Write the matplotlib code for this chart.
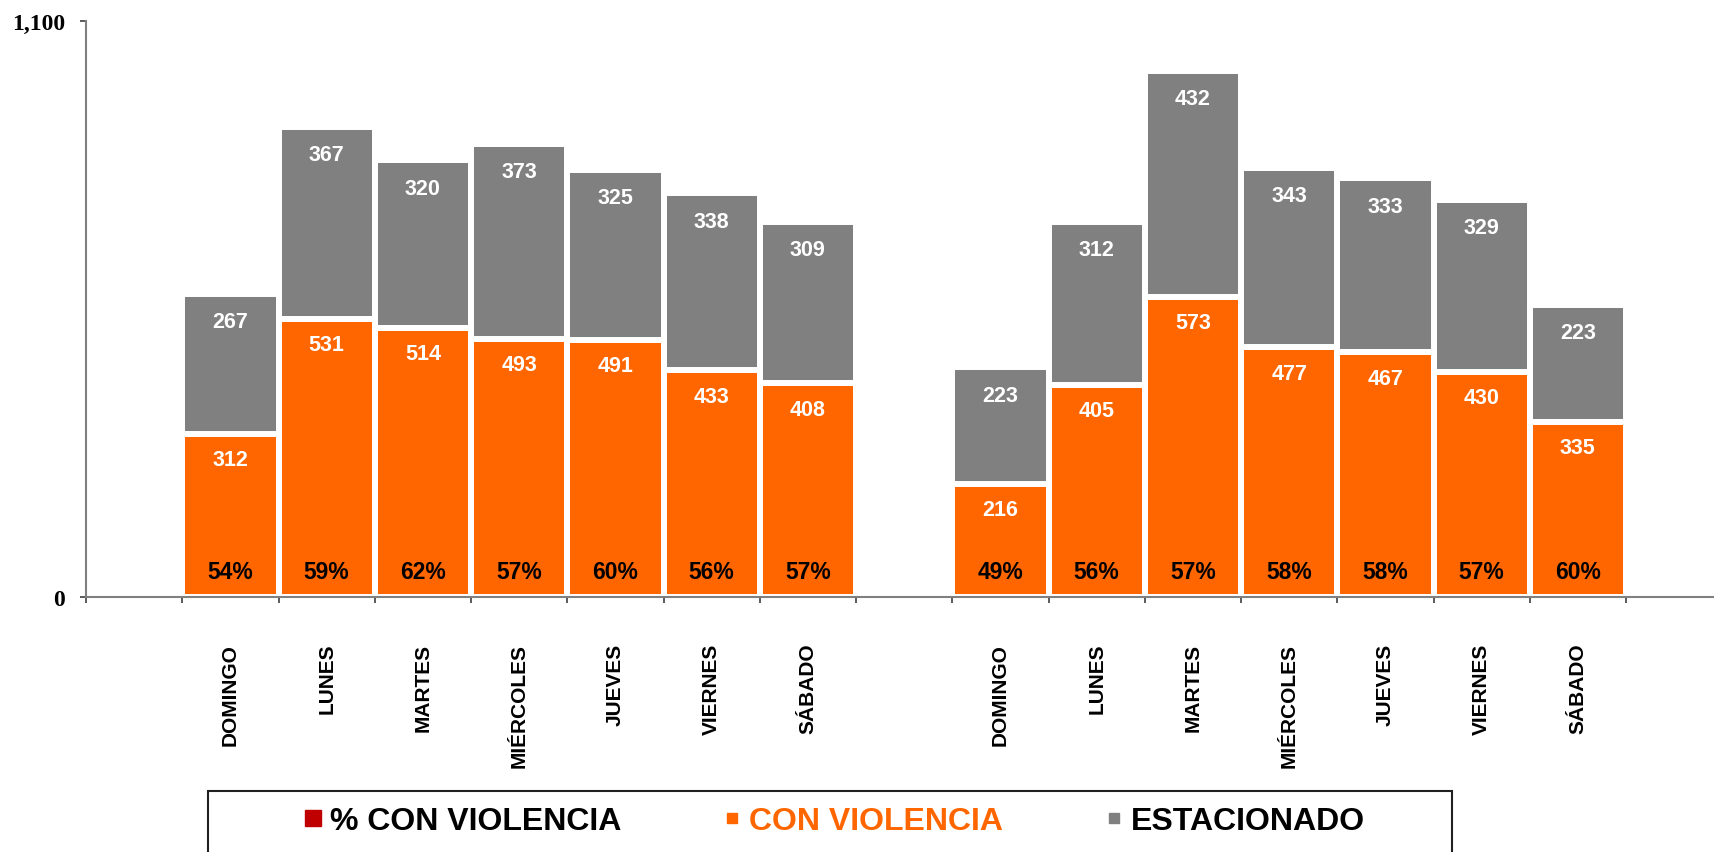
"""
Stacked bars: vehicle robbery by weekday, two periods.
"""
import matplotlib.pyplot as plt
import numpy as np
from matplotlib.lines import Line2D
from matplotlib.patches import Rectangle

days = ["DOMINGO", "LUNES", "MARTES", "MIÉRCOLES", "JUEVES", "VIERNES", "SÁBADO"]

# first period
violencia_1 = [312, 531, 514, 493, 491, 433, 408]
estacionado_1 = [267, 367, 320, 373, 325, 338, 309]
pct_1 = [54, 59, 62, 57, 60, 56, 57]

# second period
violencia_2 = [216, 405, 573, 477, 467, 430, 335]
estacionado_2 = [223, 312, 432, 343, 333, 329, 223]
pct_2 = [49, 56, 57, 58, 58, 57, 60]

ORANGE = "#FF6600"
GRAY = "#808080"
RED = "#C00000"

plt.rcParams["font.family"] = ["Liberation Sans", "DejaVu Sans"]

fig = plt.figure(figsize=(17.14, 8.53), dpi=100)
ax = fig.add_axes([86 / 1714, 255 / 853, 1 - 86 / 1714, 576 / 853])

groups = [(np.arange(7) + 1, violencia_1, estacionado_1, pct_1),
          (np.arange(7) + 9, violencia_2, estacionado_2, pct_2)]

for xs, viol, est, pct in groups:
    ax.bar(xs, viol, width=1.0, color=ORANGE, edgecolor="white", linewidth=4.3)
    ax.bar(xs, est, bottom=viol, width=1.0, color=GRAY, edgecolor="white", linewidth=4.3)
    for x, v, e, p in zip(xs, viol, est, pct):
        ax.annotate(str(e), xy=(x, v + e), xytext=(0, -28), textcoords="offset pixels",
                    ha="center", va="center", color="white", fontsize=15.5, fontweight="bold")
        ax.annotate(str(v), xy=(x, v), xytext=(0, -26), textcoords="offset pixels",
                    ha="center", va="center", color="white", fontsize=15.5, fontweight="bold")
        ax.annotate(f"{p}%", xy=(x, 0), xytext=(0, 25), textcoords="offset pixels",
                    ha="center", va="center", color="black", fontsize=16.5, fontweight="bold")

ax.set_xlim(-0.5, -0.5 + (1714 - 86) / 96.25)
ax.set_ylim(0, 1100)

# ticks at slot boundaries, labels at bar centres
ax.set_xticks(np.arange(17) - 0.5)
ax.set_xticklabels([])
centers = np.concatenate([groups[0][0], groups[1][0]])
ax.set_xticks(centers, minor=True)
ax.set_xticklabels(days + days, minor=True, rotation=90, fontsize=15, fontweight="bold")
ax.tick_params(axis="x", which="minor", length=0, pad=33)
ax.tick_params(axis="x", which="major", length=4.3, width=1.2, color="#404040", direction="out")

ax.set_yticks([0, 1100])
ax.set_yticklabels(["0", "1,100"], family=["Liberation Serif", "DejaVu Serif"],
                   fontsize=17, fontweight="bold")
ax.tick_params(axis="y", length=4.3, width=1.2, color="#404040", pad=11)

for s in ["top", "right"]:
    ax.spines[s].set_visible(False)
for s in ["left", "bottom"]:
    ax.spines[s].set_color(GRAY)
    ax.spines[s].set_linewidth(1.5)

# legend box (cut off at the bottom like the source)
fig.patches.append(Rectangle((208 / 1714, -0.01), (1452 - 208) / 1714, (853 - 792) / 853 + 0.01,
                             transform=fig.transFigure, fill=False, edgecolor="#202020",
                             linewidth=1.5))
handles = [
    Line2D([], [], linestyle="none", marker="s", markersize=12, color=RED),
    Line2D([], [], linestyle="none", marker="s", markersize=6.5, color=ORANGE),
    Line2D([], [], linestyle="none", marker="s", markersize=6.5, color=GRAY),
]
leg = fig.legend(handles, ["% CON VIOLENCIA", "CON VIOLENCIA", "ESTACIONADO"],
                 loc="center", bbox_to_anchor=(835 / 1714, (853 - 822) / 853), ncol=3,
                 frameon=False, fontsize=23, handlelength=0.5, handletextpad=0.3,
                 columnspacing=3.2, borderaxespad=0, prop={"weight": "bold", "size": 23})
for t, c in zip(leg.get_texts(), ["black", ORANGE, "black"]):
    t.set_color(c)

fig.savefig("out.png", dpi=100)
